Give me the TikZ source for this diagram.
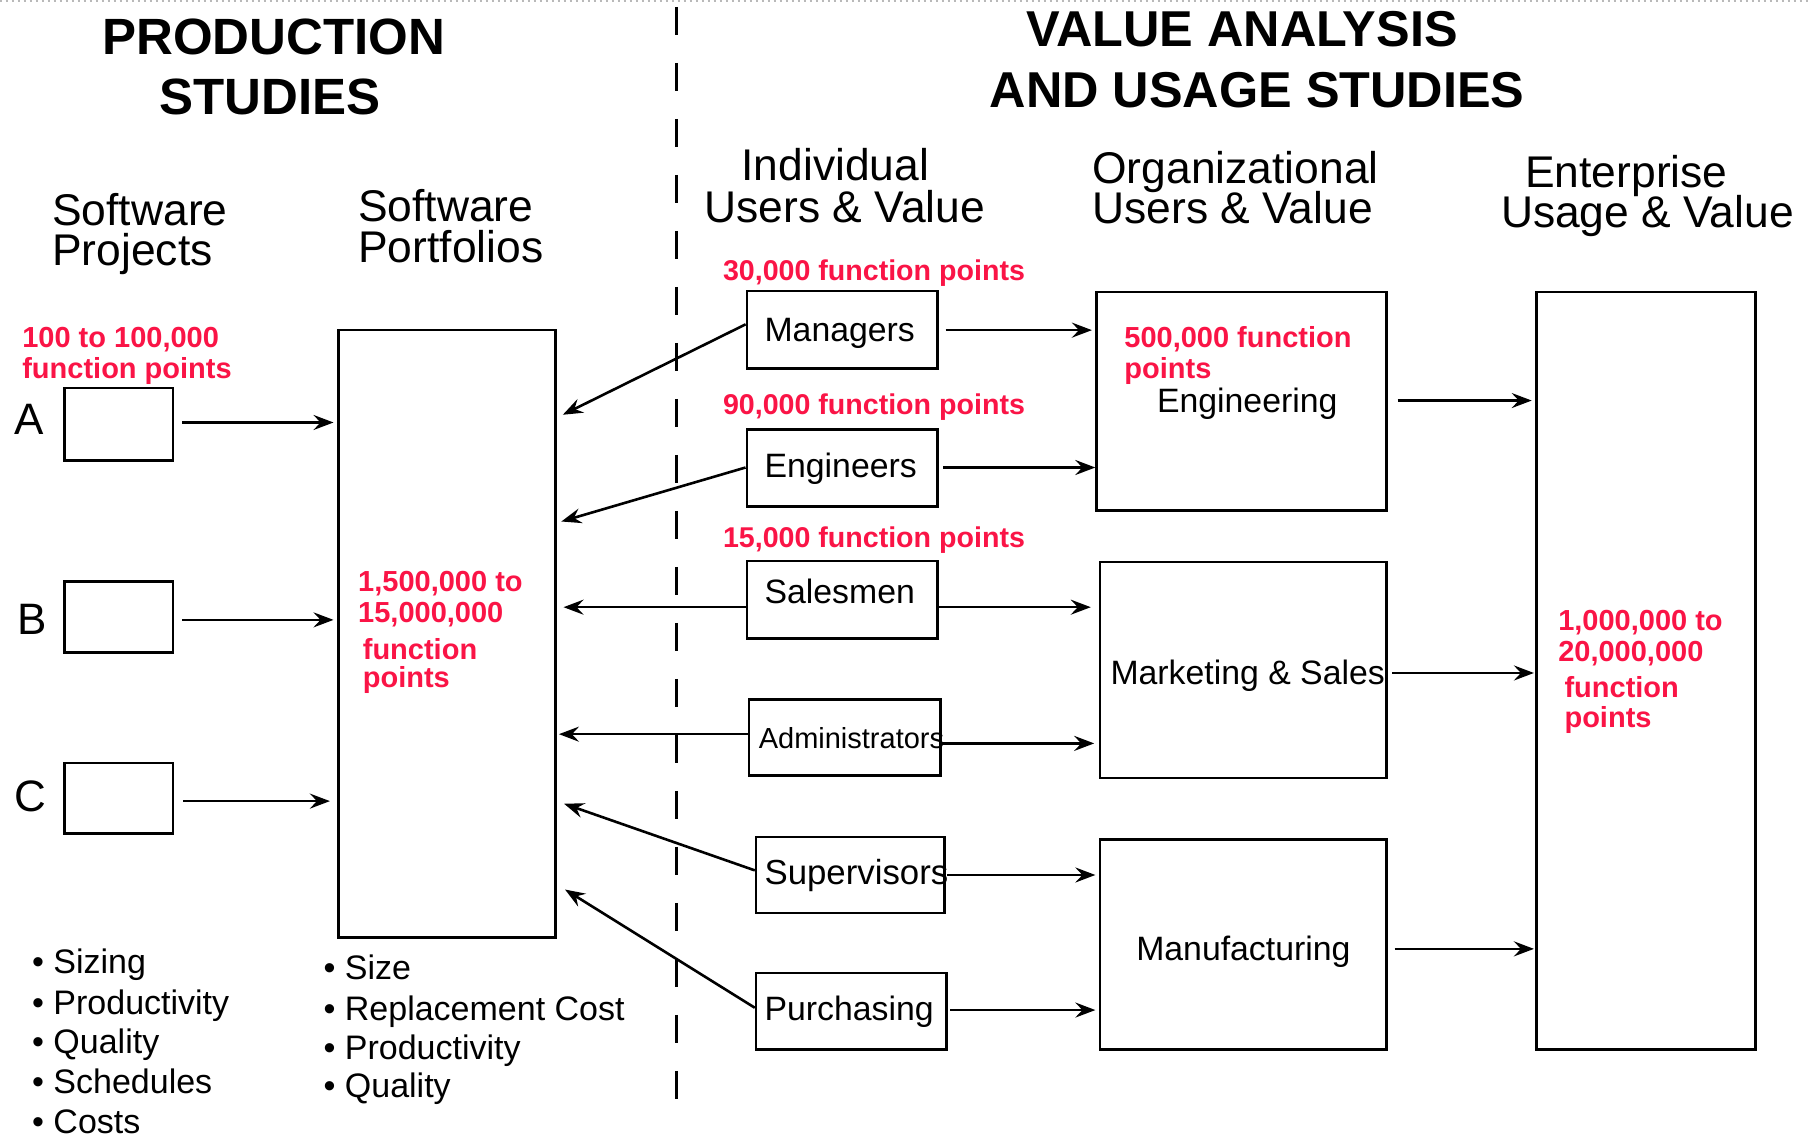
\documentclass[tikz,border=0pt]{standalone}
\usepackage{fontspec}
\setmainfont{Liberation Sans}
\usetikzlibrary{arrows.meta,fit,calc}
\definecolor{fpred}{RGB}{250,20,70}
\begin{document}
\begin{tikzpicture}[x=0.5772pt,y=-0.5772pt,
  box/.style={draw,line width=1.3pt,inner sep=0pt},
  arr/.style={line width=1.3pt,-{Stealth[length=10pt,width=7.5pt,inset=3.5pt]}},
  txt/.style={inner sep=0pt,anchor=base west,font=\fontsize{16.9}{20}\selectfont},
  smalltxt/.style={inner sep=0pt,anchor=base west,font=\fontsize{14.5}{17}\selectfont},
  hdr/.style={inner sep=0pt,anchor=base west,font=\fontsize{22.2}{20}\selectfont},
  ttl/.style={inner sep=0pt,anchor=base,font=\fontsize{25.5}{30}\selectfont\bfseries},
  ttlb/.style={inner sep=0pt,anchor=base,font=\fontsize{25.2}{30}\selectfont\bfseries},
  fp/.style={inner sep=0pt,anchor=base west,text=fpred,font=\fontsize{14.5}{16}\selectfont\bfseries},
  fpline/.style={inner sep=0pt,anchor=base west,text=fpred,font=\fontsize{14.3}{16}\selectfont\bfseries},
  letter/.style={inner sep=0pt,anchor=base west,font=\fontsize{22}{24}\selectfont},
  bul/.style={inner sep=0pt,anchor=base west,font=\fontsize{17}{20}\selectfont},
]
\useasboundingbox (0,0) rectangle (1568,985.8);
\fill[white] (0,0) rectangle (1568,985.8);
% faint dotted top edge
\draw[gray!55,line width=0.6pt,dash pattern=on 1pt off 2pt] (0,0.8) -- (1568,0.8);

% titles
\node[ttl] (t1) at (237,47.2) {PRODUCTION};
\node[ttl] (t2) at (234,99.6) {STUDIES};
\node[ttlb] (t3) at (1076,40.7) {VALUE ANALYSIS};
\node[ttlb] (t4) at (1089,92.7) {AND USAGE STUDIES};

% dashed divider
\coordinate (dtop) at (586,6);
\coordinate (dbot) at (586,964);
\draw[line width=1.1pt,dash pattern=on 14pt off 14pt] (dtop) -- (dbot);

% column headers
\node[hdr] (sp1) at (45,195) {Software};
\node[hdr] (sp2) at (45,230) {Projects};
\node[hdr] (po1) at (310,192) {Software};
\node[hdr] (po2) at (310,227.4) {Portfolios};
\node[hdr] (iu1) at (642,156) {Individual};
\node[hdr] (iu2) at (610,192.5) {Users \& Value};
\node[hdr] (ou1) at (946,159) {Organizational};
\node[hdr] (ou2) at (946,193.7) {Users \& Value};
\node[hdr] (eu1) at (1321,162) {Enterprise};
\node[hdr] (eu2) at (1300,196.8) {Usage \& Value};

% boxes
\node[box,fit={(56,336) (150,399)}] (A) {};
\node[box,fit={(56,504) (150,565)}] (B) {};
\node[box,fit={(56,661) (150,722)}] (C) {};
\node[box,fit={(293,286) (481,812)}] (P) {};
\node[box,fit={(647,252) (812,319)}] (M) {};
\node[box,fit={(647,372) (812,439)}] (E) {};
\node[box,fit={(647,486) (812,553)}] (S) {};
\node[box,fit={(649,606) (815,672)}] (Ad) {};
\node[box,fit={(655,725) (818,791)}] (Su) {};
\node[box,fit={(655,843) (820,909)}] (Pu) {};
\node[box,fit={(950,253) (1201,442)}] (Eng) {};
\node[box,fit={(953,487) (1201,674)}] (Mkt) {};
\node[box,fit={(953,727) (1201,909)}] (Man) {};
\node[box,fit={(1331,253) (1521,909)}] (Ent) {};

% letters
\node[letter] (la) at (12.5,376.4) {A};
\node[letter] (lb) at (15,550) {B};
\node[letter] (lc) at (12.5,702.7) {C};

% box texts
\node[txt] (tm) at (662,296) {Managers};
\node[txt] (te) at (662,414) {Engineers};
\node[txt] (ts) at (662,523) {Salesmen};
\node[smalltxt] (tad) at (657,648.8) {Administrators};
\node[txt,font=\fontsize{17.4}{20}\selectfont] (tsu) at (662,766) {Supervisors};
\node[txt] (tpu) at (662,884) {Purchasing};
\node[txt] (teng) at (1002,357.5) {Engineering};
\node[txt] (tmkt) at (961.7,592.6) {Marketing \& Sales};
\node[txt] (tman) at (984,832) {Manufacturing};

% red labels
\node[fp] (r1a) at (19,300.7) {100 to 100,000};
\node[fp] (r1b) at (19,327.6) {function points};
\node[fpline] (r2) at (626,242.6) {30,000 function points};
\node[fpline] (r3) at (626,359) {90,000 function points};
\node[fpline] (r4) at (626,474) {15,000 function points};
\node[fp] (r5a) at (973.7,300.8) {500,000 function};
\node[fp] (r5b) at (973.7,327.6) {points};
\node[fp] (r6a) at (310,512.5) {1,500,000 to};
\node[fp] (r6b) at (310,539.7) {15,000,000};
\node[fp] (r6c) at (314,570.9) {function};
\node[fp] (r6d) at (314,596) {points};
\node[fp] (r7a) at (1349.6,546) {1,000,000 to};
\node[fp] (r7b) at (1349.6,573.3) {20,000,000};
\node[fp] (r7c) at (1355,604) {function};
\node[fp] (r7d) at (1355,630.6) {points};

% bullet lists
\node[bul] (b1) at (27.5,843) {• Sizing};
\node[bul] (b2) at (27.5,879) {• Productivity};
\node[bul] (b3) at (27.5,912.6) {• Quality};
\node[bul] (b4) at (27.5,947) {• Schedules};
\node[bul] (b5) at (27.5,982) {• Costs};
\node[bul] (c1) at (280,848.6) {• Size};
\node[bul] (c2) at (280,884) {• Replacement Cost};
\node[bul] (c3) at (280,917.6) {• Productivity};
\node[bul] (c4) at (280,950.5) {• Quality};

% y levels
\coordinate (yA) at (0,366);
\coordinate (yB) at (0,537);
\coordinate (yC) at (0,694);
\coordinate (yM1) at (0,281);  \coordinate (yM2) at (0,362); \coordinate (yM3) at (0,286);
\coordinate (yE1) at (0,405);  \coordinate (yE2) at (0,453);
\coordinate (yS) at (0,526);
\coordinate (yAd1) at (0,636); \coordinate (yAd2) at (0,644);
\coordinate (ySu1) at (0,754); \coordinate (ySu2) at (0,694); \coordinate (ySu3) at (0,758);
\coordinate (yPu1) at (0,873); \coordinate (yPu2) at (0,766); \coordinate (yPu3) at (0,875);
\coordinate (yEng) at (0,347);
\coordinate (yMkt) at (0,583);
\coordinate (yMan) at (0,822);

% project -> portfolio
\draw[arr,shorten <=4pt,shorten >=1.7pt] (A.east |- yA) -- (P.west |- yA);
\draw[arr,shorten <=4pt,shorten >=1.7pt] (B.east |- yB) -- (P.west |- yB);
\draw[arr,shorten <=4.5pt,shorten >=3.5pt] (C.east |- yC) -- (P.west |- yC);

% users -> portfolio
\draw[arr,shorten >=3.5pt] (M.west |- yM1) -- (P.east |- yM2);
\draw[arr,shorten >=2.5pt] (E.west |- yE1) -- (P.east |- yE2);
\draw[arr,shorten >=3.5pt] (S.west |- yS) -- (P.east |- yS);
\draw[arr,shorten >=1.2pt] (Ad.west |- yAd1) -- (P.east |- yAd1);
\draw[arr,shorten >=4pt] (Su.west |- ySu1) -- (P.east |- ySu2);
\draw[arr,shorten >=5pt] (Pu.west |- yPu1) -- (P.east |- yPu2);

% users -> organizations
\draw[arr,shorten <=3.5pt,shorten >=1.7pt] (M.east |- yM3) -- (Eng.west |- yM3);
\draw[arr,shorten <=2.3pt] (E.east |- yE1) -- (Eng.west |- yE1);
\draw[arr,shorten >=4pt] (S.east |- yS) -- (Mkt.west |- yS);
\draw[arr,shorten >=2.3pt] (Ad.east |- yAd2) -- (Mkt.west |- yAd2);
\draw[arr,shorten <=0.8pt,shorten >=1.7pt] (Su.east |- ySu3) -- (Man.west |- ySu3);
\draw[arr,shorten <=1.2pt,shorten >=1.7pt] (Pu.east |- yPu3) -- (Man.west |- yPu3);

% organizations -> enterprise
\draw[arr,shorten <=5pt,shorten >=1.7pt] (Eng.east |- yEng) -- (Ent.west |- yEng);
\draw[arr,shorten <=2.3pt,shorten >=0.6pt] (Mkt.east |- yMkt) -- (Ent.west |- yMkt);
\draw[arr,shorten <=3.5pt,shorten >=0.6pt] (Man.east |- yMan) -- (Ent.west |- yMan);
\end{tikzpicture}
\end{document}
